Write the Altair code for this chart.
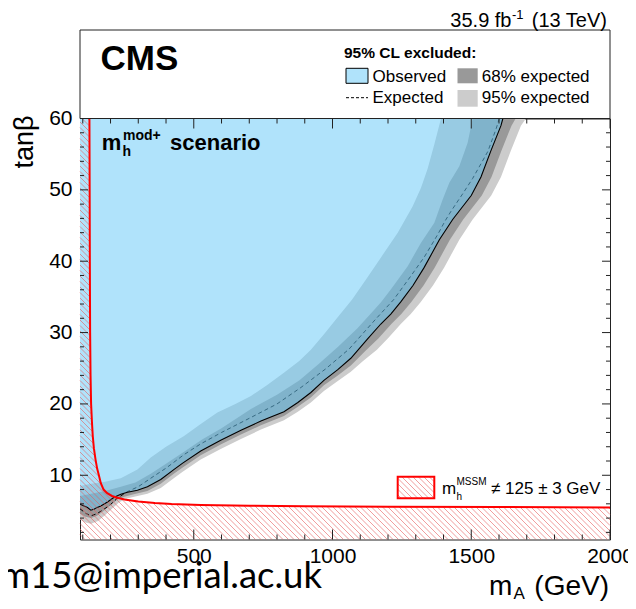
import altair as alt
import numpy as np
import pandas as pd

# ---------------- data ----------------
# observed exclusion contour (mA [GeV], tan beta)
obs_x = [90, 105, 117, 129, 140, 152, 165, 189, 213, 237, 261, 297, 333, 381, 428, 460, 525, 597, 670, 742,
         825, 875, 922, 969, 1019, 1066, 1128, 1174, 1210, 1246, 1290, 1330, 1385, 1433, 1456, 1500, 1535,
         1571, 1607, 1614]
obs_y = [5.94, 5.70, 5.48, 5.10, 5.24, 5.50, 5.70, 6.26, 6.92, 7.34, 7.62, 7.90, 8.40, 9.40, 10.8, 11.7, 13.4,
         14.9, 16.3, 17.6, 18.9, 20.2, 21.6, 23.3, 24.8, 26.4, 29.2, 31.2, 32.6, 34.3, 36.6, 39.1, 43.0, 45.85,
         47.0, 49.2, 51.8, 55.5, 59.0, 60.0]

# median expected contour
exp_x = [90, 110, 128, 150, 175, 200, 225, 260, 300, 357, 400, 465, 525, 600, 706, 800, 886, 975, 1060, 1156,
         1220, 1280, 1331, 1380, 1405, 1427, 1470, 1505, 1540, 1560, 1590, 1601]
exp_y = [5.3, 4.7, 4.3, 4.6, 5.2, 5.9, 6.8, 7.7, 8.4, 9.9, 11.0, 12.9, 14.4, 16.0, 18.1, 20.0, 22.3, 24.9, 27.7,
         31.9, 34.6, 37.8, 40.6, 43.8, 45.6, 47.0, 49.5, 51.6, 54.0, 55.4, 58.6, 60.0]

# 68% band, outer (low / right) edge
b68o_x = [90, 110, 130, 150, 175, 200, 225, 250, 280, 333, 381, 428, 460, 525, 597, 670, 742, 825, 875, 922,
          969, 1019, 1066, 1120, 1166, 1212, 1248, 1284, 1328, 1368, 1423, 1471, 1494, 1538, 1573, 1609, 1645, 1660]
b68o_y = [4.6, 4.2, 4.0, 4.3, 5.0, 5.8, 6.6, 7.0, 7.3, 7.8, 8.8, 10.2, 11.1, 12.8, 14.3, 15.7, 17.0, 18.3, 19.6,
          20.9, 22.6, 24.0, 25.4, 27.5, 29.2, 31.2, 32.6, 34.3, 36.6, 39.1, 43.0, 45.85, 47.0, 49.2, 51.8, 55.5,
          59.0, 60.0]

# 95% band, outer edge
b95o_x = [90, 110, 130, 155, 180, 205, 230, 255, 285, 333, 381, 428, 460, 525, 597, 670, 742, 825, 875, 922,
          969, 1019, 1066, 1110, 1160, 1200, 1246, 1282, 1318, 1362, 1402, 1457, 1505, 1528, 1572, 1607, 1643,
          1679, 1697]
b95o_y = [3.8, 3.4, 3.2, 3.6, 4.4, 5.3, 6.2, 6.7, 7.0, 7.4, 8.2, 9.6, 10.5, 12.2, 13.7, 15.1, 16.4, 17.7, 18.9,
          20.2, 21.8, 23.2, 24.5, 26.0, 27.6, 29.2, 31.2, 32.6, 34.3, 36.6, 39.1, 43.0, 45.85, 47.0, 49.2, 51.8,
          55.5, 59.0, 60.0]

# 68% band, inner (high / left) edge
b68i_x = [90, 130, 180, 237, 290, 345, 400, 465, 530, 600, 706, 800, 880, 950, 1020, 1090, 1174, 1210, 1271,
          1319, 1367, 1397, 1421, 1457, 1487, 1505]
b68i_y = [7.1, 7.4, 7.8, 8.4, 9.0, 10.2, 11.6, 13.3, 15.0, 16.6, 19.3, 21.3, 23.3, 25.6, 28.0, 30.6, 34.2, 36.05,
          39.3, 42.6, 45.4, 48.65, 51.0, 53.3, 56.6, 60.0]

# 95% band, inner edge
b95i_x = [90, 130, 180, 237, 297, 345, 400, 465, 525, 585, 650, 706, 766, 826, 880, 922, 970, 1020, 1070, 1120,
          1174, 1235, 1289, 1319, 1343, 1367, 1391]
b95i_y = [8.5, 8.8, 9.1, 9.6, 10.8, 12.5, 14.0, 15.5, 17.2, 18.8, 20.0, 21.1, 22.7, 24.4, 26.0, 27.6, 29.8, 32.2,
          34.6, 37.4, 40.5, 44.0, 47.7, 50.3, 53.0, 56.4, 60.0]

# boundary of m_h^MSSM != 125 +- 3 GeV region
mh_x = [124, 124.8, 125.5, 126.5, 128, 130, 133, 136, 140, 146, 152, 158, 165, 175, 188, 205, 225, 250, 300,
        360, 420, 525, 700, 900, 1200, 1600, 2000]
mh_y = [60, 50, 40, 30, 24, 20, 17.5, 15.5, 13.8, 12.2, 10.9, 10.0, 8.9, 8.0, 7.5, 7.1, 6.85, 6.6, 6.33, 6.12,
        5.98, 5.85, 5.73, 5.66, 5.6, 5.55, 5.5]

x_major = [500, 1000, 1500, 2000]
x_minor = [v for v in range(100, 2001, 100) if v % 500 != 0]
y_major = [10, 20, 30, 40, 50, 60]
y_minor = [v for v in range(2, 60, 2) if v % 10 != 0]

# ---------------- layout ----------------
XMIN, XMAX = 90, 2000
YMIN, YMAX = 1, 60
W, H = 530, 421
FONT = "Liberation Sans"
FRAME = "#222222"
BLUE = "#6acaf8"
BLUE_OP = 0.53
BLUE_LEG = "#b0e3fb"
GRAY68 = "#999999"
GRAY95 = "#cccccc"
HATCH = "#e65c5c"

xenc = alt.X("x:Q", scale=alt.Scale(domain=[XMIN, XMAX], nice=False, zero=False),
             axis=alt.Axis(values=x_major, format="d", ticks=False, domain=False, grid=False, title=None,
                           labelFont=FONT, labelFontSize=21, labelColor="black", labelPadding=6,
                           labelFlush=False, labelOverlap=False))
yenc = alt.Y("y:Q", scale=alt.Scale(domain=[YMIN, YMAX], nice=False, zero=False),
             axis=alt.Axis(values=y_major, format="d", ticks=False, domain=False, grid=False, title=None,
                           labelFont=FONT, labelFontSize=21, labelColor="black", labelPadding=8,
                           labelFlush=False, labelOverlap=False))


def curve_df(xs, ys):
    return pd.DataFrame({"x": xs, "y": ys, "top": YMAX})


def area(xs, ys, color, opacity=1.0):
    return alt.Chart(curve_df(xs, ys)).mark_area(color=color, opacity=opacity, interpolate="linear",
                                                 clip=True).encode(x=xenc, y=yenc, y2="top:Q")


def line(xs, ys, color, width=1.0, dash=None):
    kw = dict(color=color, strokeWidth=width, clip=True, interpolate="linear")
    if dash:
        kw["strokeDash"] = dash
    return alt.Chart(curve_df(xs, ys)).mark_line(**kw).encode(x=xenc, y=yenc)


ONE = pd.DataFrame({"a": [0]})


def txt(s, px, py, size, weight="normal", align="left", font=FONT, angle=0):
    kw = dict(text=s, fontSize=size, fontWeight=weight, align=align, baseline="alphabetic", font=font,
              color="black")
    if angle:
        kw["angle"] = angle
    return alt.Chart(ONE).mark_text(**kw).encode(x=alt.value(px), y=alt.value(py))


def rect(x0, x1, y0, y1, fill, stroke=None, sw=1.0):
    kw = dict(fill=fill)
    if stroke:
        kw["stroke"] = stroke
        kw["strokeWidth"] = sw
    return alt.Chart(ONE).mark_rect(**kw).encode(x=alt.value(x0), x2=alt.value(x1),
                                                 y=alt.value(y0), y2=alt.value(y1))


# ---------------- hatching of the m_h region and its legend box ----------------
BX0, BX1, BY0, BY1 = 317.7, 354.3, 358.2, 379.8   # legend box (pixels in plot area)


def excl_limit(xd):
    return np.where(xd <= mh_x[0], YMAX, np.interp(xd, mh_x, mh_y))


segs = []
HSTEP = 5.5
pxs = np.arange(0, W + 0.001, 0.25)
for k in np.arange(-W, H + HSTEP, HSTEP):
    pys = pxs + k
    xd = XMIN + pxs / W * (XMAX - XMIN)
    yd = YMAX - pys / H * (YMAX - YMIN)
    inside = (pys >= 0) & (pys <= H) & (yd <= excl_limit(xd))
    inbox = (pxs >= BX0) & (pxs <= BX1) & (pys >= BY0) & (pys <= BY1)
    for m in (inside, inbox):
        idx = np.flatnonzero(m)
        if idx.size == 0:
            continue
        splits = np.flatnonzero(np.diff(idx) > 1)
        starts = np.r_[idx[0], idx[splits + 1]]
        ends = np.r_[idx[splits], idx[-1]]
        for s, e in zip(starts, ends):
            if e > s:
                segs.append((xd[s], yd[s], xd[e], yd[e]))
seg_df = pd.DataFrame(segs, columns=["x", "y", "x2", "y2"])

hatch = alt.Chart(seg_df).mark_rule(color=HATCH, strokeWidth=0.8, opacity=0.75).encode(
    x=xenc, y=yenc, x2="x2:Q", y2="y2:Q")


# ---------------- ticks (inward, ROOT style) ----------------
def xticks(vals, length):
    df = pd.DataFrame({"x": vals})
    bot = alt.Chart(df).mark_rule(color=FRAME, strokeWidth=1).encode(x=xenc, y=alt.value(H), y2=alt.value(H - length))
    top = alt.Chart(df).mark_rule(color=FRAME, strokeWidth=1).encode(x=xenc, y=alt.value(0), y2=alt.value(length))
    return [bot, top]


def yticks(vals, length):
    df = pd.DataFrame({"y": vals})
    lft = alt.Chart(df).mark_rule(color=FRAME, strokeWidth=1).encode(y=yenc, x=alt.value(0), x2=alt.value(length))
    rgt = alt.Chart(df).mark_rule(color=FRAME, strokeWidth=1).encode(y=yenc, x=alt.value(W), x2=alt.value(W - length))
    return [lft, rgt]


layers = [
    area(b95o_x, b95o_y, GRAY95),
    area(b68o_x, b68o_y, GRAY68),
    area(b68i_x, b68i_y, GRAY95),
    area(b95i_x, b95i_y, "white"),
    line(exp_x, exp_y, "black", 1.0, [4, 3]),
    area(obs_x, obs_y, BLUE, BLUE_OP),
    line(obs_x, obs_y, "black", 1.1),
    hatch,
    line(mh_x, mh_y, "#ff0000", 2.0),
]
layers += xticks(x_minor, 5) + xticks(x_major, 10) + yticks(y_minor, 4) + yticks(y_major, 8)

# upper legend box
layers += [
    rect(0, W, -88.5, 0, "white", FRAME, 1),
    txt("CMS", 20.5, -48.5, 35, "bold"),
    txt("95% CL excluded:", 264, -60.5, 15.5, "bold"),
    rect(266, 288, -50.2, -35.2, BLUE_LEG, "black", 1),
    txt("Observed", 292.5, -36.8, 17),
    rect(377.5, 397.7, -50.2, -35.2, GRAY68),
    txt("68% expected", 401.8, -36.8, 17),
    alt.Chart(ONE).mark_rule(color="black", strokeWidth=1, strokeDash=[3, 2]).encode(
        x=alt.value(266), x2=alt.value(288), y=alt.value(-20.8)),
    txt("Expected", 292.5, -15.2, 17),
    rect(377.5, 397.7, -28.5, -11.8, GRAY95),
    txt("95% expected", 401.8, -15.2, 17),
    # luminosity label
    txt("(13 TeV)", 527, -91.8, 20, align="right"),
    txt("-1", 443.5, -100, 13, align="right"),
    txt("35.9 fb", 431.5, -91.8, 20, align="right"),
    # scenario label
    txt("m", 21.7, 31.5, 22, "bold"),
    txt("h", 42.5, 37.5, 14, "bold"),
    txt("mod+", 43, 21.5, 14, "bold"),
    txt("scenario", 90, 31.5, 22, "bold"),
    # m_h legend
    rect(BX0, BX1, BY0, BY1, "transparent", "#ff0000", 2),
    txt("m", 362, 375.5, 17),
    txt("h", 376.5, 381, 10),
    txt("MSSM", 376.5, 366.5, 10),
    txt("\u2260 125 \u00b1 3 GeV", 411, 375.5, 17),
    # axis titles
    txt("tan\u03b2", -47, -3, 27, align="right", angle=270),
    txt("m", 409, 476.5, 28),
    txt("A", 433.5, 480, 17),
    txt("(GeV)", 529, 476.5, 28, align="right"),
    # watermark
    txt("m15@imperial.ac.uk", 242, 469.5, 36.5, font="Lato", align="right"),
]

chart = alt.layer(*layers).properties(
    width=W, height=H,
    autosize=alt.AutoSizeParams(type="none"),
    padding={"left": 72, "top": 110.5, "right": 18, "bottom": 61},
).configure_view(stroke=FRAME, strokeWidth=1)

chart.save("out.html", embed_options={"renderer": "svg", "actions": False})
